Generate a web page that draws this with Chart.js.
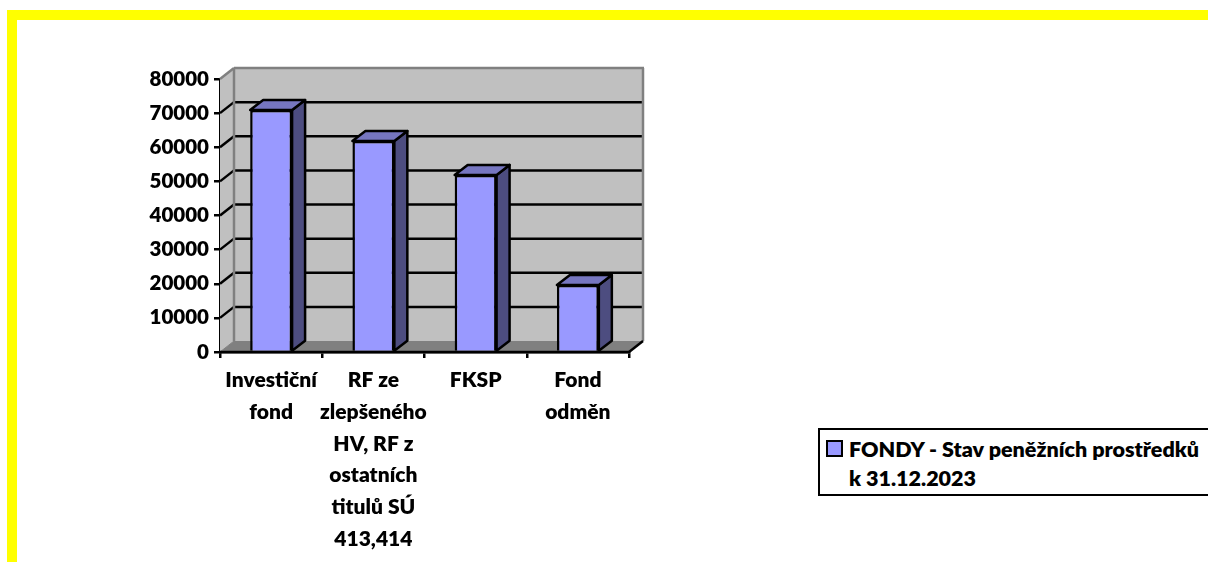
<!DOCTYPE html>
<html>
<head>
<meta charset="utf-8">
<script src="https://cdn.jsdelivr.net/npm/chart.js@4"></script>
<style>
    html, body { margin: 0; background: #fff; overflow: hidden; }
    #page { position: relative; width: 1208px; height: 562px; overflow: hidden; }
    #frame { position: absolute; left: 7px; top: 10px; width: 1300px; height: 700px; border: 10px solid #ffff00; }
    canvas { position: absolute; left: 0; top: 0; }
    #legend {
        position: absolute; left: 818px; top: 428px; width: 420px; height: 64px;
        border: 2px solid #000; background: #fff;
        font: 800 21.5px/29px Lato, sans-serif; color: #000;
    }
    #legend i { position: absolute; left: 6px; top: 10px; width: 13px; height: 13px; border: 2px solid #000; background: #9999ff; }
    #legend span { position: absolute; left: 29px; top: 5px; width: 358px; }
</style>
</head>
<body>
<div id="page">
    <div id="frame"></div>
    <canvas id="myChart" width="1208" height="562"></canvas>
    <div id="legend"><i></i><span id="legendText"></span></div>
</div>
<script>
const categories = [
    ['Investiční', 'fond'],
    ['RF ze', 'zlepšeného', 'HV, RF z', 'ostatních', 'titulů SÚ', '413,414'],
    ['FKSP'],
    ['Fond', 'odměn'],
];
const values = [70900, 61800, 51900, 19600];
const seriesName = 'FONDY - Stav peněžních prostředků k 31.12.2023';

// how far the back wall sits from the front of the box
const depthX = 14;
const depthY = 11;
const inkWidth = 2.5;

const polygon = (ctx, points, fill, stroke, width) => {
    ctx.beginPath();
    points.forEach((p, i) => (i ? ctx.lineTo(p[0], p[1]) : ctx.moveTo(p[0], p[1])));
    ctx.closePath();
    if (fill) {
        ctx.fillStyle = fill;
        ctx.fill();
    }
    if (stroke) {
        ctx.strokeStyle = stroke;
        ctx.lineWidth = width;
        ctx.lineJoin = 'round';
        ctx.stroke();
    }
};

const line = (ctx, x1, y1, x2, y2, color, width) => {
    ctx.beginPath();
    ctx.moveTo(x1, y1);
    ctx.lineTo(x2, y2);
    ctx.strokeStyle = color;
    ctx.lineWidth = width;
    ctx.stroke();
};

// walls and floor of the 3D box
const box3d = {
    id: 'box3d',
    beforeDatasetsDraw(chart) {
        const { ctx, chartArea: a, scales } = chart;
        ctx.save();
        polygon(ctx, [[a.left, a.top], [a.left + depthX, a.top - depthY], [a.left + depthX, a.bottom - depthY], [a.left, a.bottom]], '#c0c0c0');
        polygon(ctx, [[a.left + depthX, a.top - depthY], [a.right + depthX, a.top - depthY], [a.right + depthX, a.bottom - depthY], [a.left + depthX, a.bottom - depthY]], '#c0c0c0');
        polygon(ctx, [[a.left, a.bottom], [a.left + depthX, a.bottom - depthY], [a.right + depthX, a.bottom - depthY], [a.right, a.bottom]], '#808080');

        scales.y.ticks.forEach((tick) => {
            const y = scales.y.getPixelForValue(tick.value);
            if (tick.value > 0 && tick.value < scales.y.max) {
                line(ctx, a.left, y, a.left + depthX, y - depthY, '#000', inkWidth);
                line(ctx, a.left + depthX, y - depthY, a.right + depthX, y - depthY, '#000', inkWidth);
            }
        });

        // grey edges of the box
        line(ctx, a.left, a.top, a.left + depthX, a.top - depthY, '#808080', inkWidth);
        line(ctx, a.left + depthX, a.top - depthY, a.right + depthX + 1, a.top - depthY, '#808080', inkWidth);
        line(ctx, a.right + depthX, a.top - depthY, a.right + depthX, a.bottom - depthY, '#808080', inkWidth);
        line(ctx, a.left + depthX, a.top - depthY, a.left + depthX, a.bottom - depthY, '#808080', inkWidth);
        line(ctx, a.left, a.bottom, a.left + depthX, a.bottom - depthY, '#808080', 1);
        line(ctx, a.right, a.bottom, a.right + depthX, a.bottom - depthY, '#000', inkWidth);
        ctx.restore();
    },
    afterDatasetsDraw(chart) {
        const { ctx, chartArea: a } = chart;
        const dx = depthX - 1;
        const dy = depthY - 1;
        ctx.save();
        chart.getDatasetMeta(0).data.forEach((bar) => {
            const { x, y, base, width } = bar.getProps(['x', 'y', 'base', 'width'], true);
            const l = x - width / 2;
            const r = x + width / 2;
            polygon(ctx, [[r, y], [r + dx, y - dy], [r + dx, base - dy], [r, base]], '#4d4d80', '#000', inkWidth);
            polygon(ctx, [[l, y], [l + dx, y - dy], [r + dx, y - dy], [r, y]], '#7676c0', '#000', inkWidth);
        });
        // front edge of the floor goes over the bar feet
        line(ctx, a.left - 1, a.bottom, a.right + 1, a.bottom, '#000', inkWidth);
        ctx.restore();
    },
};

const ctx = document.getElementById('myChart').getContext('2d');

new Chart(ctx, {
    type: 'bar',
    data: {
        labels: categories,
        datasets: [{
            label: seriesName,
            data: values,
            backgroundColor: '#9999ff',
            borderColor: '#000',
            borderWidth: inkWidth,
            barPercentage: 0.41,
            categoryPercentage: 1,
        }],
    },
    options: {
        responsive: false,
        animation: false,
        layout: { padding: { top: 79, right: 579, left: 0, bottom: 0 } },
        plugins: {
            legend: { display: false },
            tooltip: { enabled: false },
        },
        scales: {
            x: {
                afterFit: (scale) => { scale.height = 210; },
                border: { color: '#000', width: inkWidth },
                grid: { drawOnChartArea: false, color: '#000', lineWidth: inkWidth, tickLength: 6 },
                ticks: {
                    color: '#000',
                    maxRotation: 0,
                    autoSkip: false,
                    padding: 6,
                    font: { family: 'Lato, sans-serif', size: 21, weight: '800', lineHeight: 1.52 },
                },
            },
            y: {
                min: 0,
                max: 80000,
                afterFit: (scale) => { scale.width = 220; },
                border: { color: '#000', width: inkWidth },
                grid: { drawOnChartArea: false, color: '#000', lineWidth: inkWidth, tickLength: 6 },
                ticks: {
                    stepSize: 10000,
                    color: '#000',
                    padding: 5,
                    callback: (value) => String(value),
                    font: { family: 'Lato, sans-serif', size: 20.5, weight: '800' },
                },
            },
        },
    },
    plugins: [box3d],
});

document.getElementById('legendText').textContent = seriesName;
</script>
</body>
</html>
